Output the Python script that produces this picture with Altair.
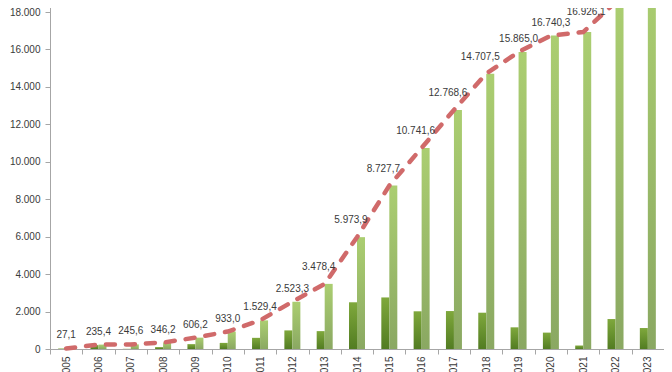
import altair as alt
import pandas as pd

years = [str(y) for y in range(2005, 2024)]
cumulative = [27.1, 235.4, 245.6, 346.2, 606.2, 933.0, 1529.4, 2523.3, 3478.4, 5973.9,
              8727.7, 10741.6, 12768.6, 14707.5, 15865.0, 16740.3, 16926.1, 18530.0, 19650.0]
annual = [27.1, 208.3, 10.2, 100.6, 260.0, 326.8, 596.4, 993.9, 955.1, 2495.5,
          2753.8, 2013.9, 2027.0, 1938.9, 1157.5, 875.3, 185.8, 1600.0, 1120.0]
y_ticks = [0, 2000, 4000, 6000, 8000, 10000, 12000, 14000, 16000, 18000]

# labels that the original nudges away from the steep part of the line
steep_years = ["2013", "2014", "2015", "2016", "2017", "2018"]
raised_years = ["2021"]

df = pd.DataFrame({"year": years, "cumulative": cumulative, "annual": annual})

FONT = "Liberation Sans"
TXT = "#3a3a3a"
AX = "#a6a6a6"

x = alt.X("year:O", title=None,
          scale=alt.Scale(paddingInner=0, paddingOuter=0),
          axis=alt.Axis(labelAngle=-90, tickBand="extent", domainColor=AX, tickColor=AX,
                        tickSize=5, labelPadding=2, labelFont=FONT, labelFontSize=10,
                        labelColor=TXT, grid=False))
yscale = alt.Scale(domain=[0, 18641], nice=False, zero=True)
yaxis = alt.Axis(values=y_ticks, format=",d", domainColor=AX, tickColor=AX, tickSize=5,
                 labelPadding=5, labelFont=FONT, labelFontSize=10, labelColor=TXT,
                 grid=False, title=None)

base = alt.Chart(df)

dark_grad = alt.Gradient(gradient="linear", x1=0, x2=0, y1=0, y2=1,
                         stops=[alt.GradientStop(color="#7fa83c", offset=0),
                                alt.GradientStop(color="#527c22", offset=1)])
light_grad = alt.Gradient(gradient="linear", x1=0, x2=0, y1=0, y2=1,
                          stops=[alt.GradientStop(color="#abce71", offset=0),
                                 alt.GradientStop(color="#8aa862", offset=1)])

ycum = alt.Y("cumulative:Q", scale=yscale, axis=yaxis)

dark = base.mark_bar(width=8, xOffset=-4, color=dark_grad).encode(
    x=x, y=alt.Y("annual:Q", scale=yscale, axis=yaxis))
light = base.mark_bar(width=8, xOffset=4, color=light_grad).encode(x=x, y=ycum)
line = base.mark_line(color="#d06a6a", strokeWidth=4.5, strokeDash=[9, 11],
                      strokeCap="round").encode(x=x, y=ycum)

text_enc = dict(x=x, y=ycum, text=alt.Text("cumulative:Q", format=",.1f"))
text_style = dict(font=FONT, fontSize=10, color=TXT, baseline="middle", align="center")

labels_default = base.transform_filter(
    ~alt.FieldOneOfPredicate(field="year", oneOf=steep_years + raised_years)
).mark_text(dy=-13, **text_style).encode(**text_enc)
labels_steep = base.transform_filter(
    alt.FieldOneOfPredicate(field="year", oneOf=steep_years)
).mark_text(dx=-6, dy=-17, **text_style).encode(**text_enc)
labels_raised = base.transform_filter(
    alt.FieldOneOfPredicate(field="year", oneOf=raised_years)
).mark_text(dx=3, dy=-20, **text_style).encode(**text_enc)

chart = alt.layer(dark, light, line, labels_default, labels_steep, labels_raised).properties(
    width=614, height=349,
    padding={"left": 42, "top": -8, "right": 0, "bottom": 23},
    autosize=alt.AutoSizeParams(type="none"),
).configure(
    locale={"number": {"decimal": ",", "thousands": ".", "grouping": [3],
                       "currency": ["", " €"]}}
).configure_view(stroke=None)

chart.save("out.html", embed_options={"renderer": "svg", "actions": False})
